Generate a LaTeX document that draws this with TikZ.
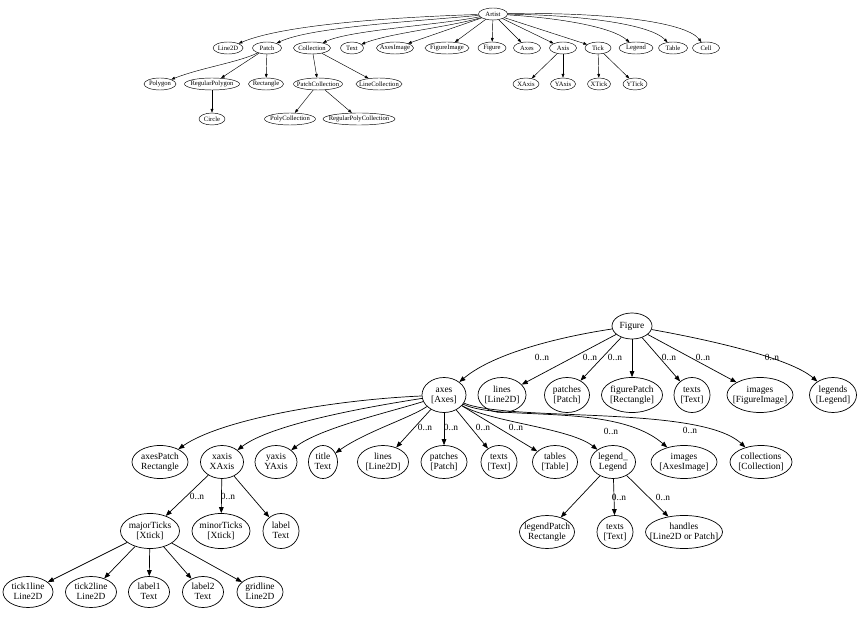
\documentclass[tikz,border=0pt]{standalone}
\usepackage{fontspec}
\setmainfont{Liberation Serif}
\usetikzlibrary{shapes.geometric,arrows.meta}
\newcommand\Tnode[5]{\node[tnode,minimum width=#4] (#1) at (#2,#3) {\makebox[0pt]{#5}};}
\newcommand\Bnode[6]{\node[bnode,minimum width=#4,minimum height=#5] (#1) at (#2,#3) {\makebox[0pt]{\begin{tabular}{@{}c@{}}#6\end{tabular}}};}
\begin{document}
\begin{tikzpicture}[x=1pt,y=-1pt,
  tnode/.style={ellipse,draw,line width=0.45pt,inner sep=0pt,minimum height=12pt,font=\fontsize{6.6}{7}\selectfont},
  bnode/.style={ellipse,draw,line width=0.7pt,inner sep=0pt,font=\fontsize{9.4}{10}\selectfont},
  tedge/.style={-{Triangle[length=3.8pt,width=2.8pt]},line width=0.45pt},
  bedge/.style={-{Triangle[length=6pt,width=4.6pt]},line width=0.7pt},
  elabel/.style={font=\fontsize{9.4}{10}\selectfont,inner sep=0pt}]
\useasboundingbox[fill=white] (0,0) rectangle (864,617);
% ---------- top graph ----------
\Tnode{tartist}{493}{14}{29}{Artist}
\Tnode{tline2d}{228}{48}{30}{Line2D}
\Tnode{tpatch}{267}{48}{29}{Patch}
\Tnode{tcollection}{312}{48}{37}{Collection}
\Tnode{ttext}{352}{48}{23}{Text}
\Tnode{taxesimage}{395}{48}{37}{AxesImage}
\Tnode{tfigureimage}{447}{48}{44}{FigureImage}
\Tnode{tfigure}{492}{48}{28}{Figure}
\Tnode{taxes}{527}{48}{27}{Axes}
\Tnode{taxis}{563}{48}{27}{Axis}
\Tnode{ttick}{598}{48}{26}{Tick}
\Tnode{tlegend}{636}{48}{34}{Legend}
\Tnode{ttable}{673}{48}{29}{Table}
\Tnode{tcell}{706}{48}{27}{Cell}
\Tnode{tpolygon}{160}{84}{32}{Polygon}
\Tnode{tregpoly}{212}{84}{55}{RegularPolygon}
\Tnode{trectangle}{266}{84}{35}{Rectangle}
\Tnode{tpatchcoll}{318}{84}{49}{PatchCollection}
\Tnode{tlinecoll}{379}{84}{46}{LineCollection}
\Tnode{txaxis}{526}{84}{26}{XAxis}
\Tnode{tyaxis}{563}{84}{25}{YAxis}
\Tnode{txtick}{599}{84}{23}{XTick}
\Tnode{tytick}{635}{84}{24}{YTick}
\Tnode{tcircle}{212}{119}{26}{Circle}
\Tnode{tpolycoll}{290}{119}{51}{PolyCollection}
\Tnode{tregpolycoll}{359}{119}{72}{RegularPolyCollection}

\draw[tedge] (tartist) .. controls (400,17) and (285,24) .. (tline2d);
\draw[tedge] (tartist) .. controls (420,21) and (310,27) .. (tpatch);
\draw[tedge] (tartist) .. controls (440,25) and (350,30) .. (tcollection);
\draw[tedge] (tartist) .. controls (450,27) and (390,33) .. (ttext);
\draw[tedge] (tartist) -- (taxesimage);
\draw[tedge] (tartist) -- (tfigureimage);
\draw[tedge] (tartist) -- (tfigure);
\draw[tedge] (tartist) -- (taxes);
\draw[tedge] (tartist) -- (taxis);
\draw[tedge] (tartist) -- (ttick);
\draw[tedge] (tartist) .. controls (560,18) and (612,27) .. (tlegend);
\draw[tedge] (tartist) .. controls (580,15) and (650,24) .. (ttable);
\draw[tedge] (tartist) .. controls (600,12) and (685,21) .. (tcell);
\draw[tedge] (tpatch) .. controls (240,62) and (200,68) .. (tpolygon);
\draw[tedge] (tpatch) -- (tregpoly);
\draw[tedge] (tpatch) -- (trectangle);
\draw[tedge] (tcollection) -- (tpatchcoll);
\draw[tedge] (tcollection) -- (tlinecoll);
\draw[tedge] (tregpoly) -- (tcircle);
\draw[tedge] (tpatchcoll) -- (tpolycoll);
\draw[tedge] (tpatchcoll) -- (tregpolycoll);
\draw[tedge] (taxis) -- (txaxis);
\draw[tedge] (taxis) -- (tyaxis);
\draw[tedge] (ttick) -- (txtick);
\draw[tedge] (ttick) -- (tytick);

% ---------- bottom graph ----------
\Bnode{bfigure}{632}{326}{40}{26}{Figure}
\Bnode{baxes}{444}{395}{44}{35}{axes\\{[Axes]}}
\Bnode{blines}{502}{395}{48}{35}{lines\\{[Line2D]}}
\Bnode{bpatches}{567}{395}{45}{35}{patches\\{[Patch]}}
\Bnode{bfigpatch}{632}{395}{61}{35}{figurePatch\\{[Rectangle]}}
\Bnode{btexts}{692}{395}{36}{35}{texts\\{[Text]}}
\Bnode{bimages}{760}{395}{66}{35}{images\\{[FigureImage]}}
\Bnode{blegends}{833}{395}{47}{35}{legends\\{[Legend]}}

\Bnode{baxespatch}{160}{462}{56}{33}{axesPatch\\Rectangle}
\Bnode{bxaxis}{222}{462}{43}{33}{xaxis\\XAxis}
\Bnode{byaxis}{276}{462}{42}{33}{yaxis\\YAxis}
\Bnode{btitle}{323}{462}{29}{33}{title\\Text}
\Bnode{balines}{383}{462}{51}{33}{lines\\{[Line2D]}}
\Bnode{bapatches}{444}{462}{46}{33}{patches\\{[Patch]}}
\Bnode{batexts}{499}{462}{36}{33}{texts\\{[Text]}}
\Bnode{btables}{555}{462}{45}{33}{tables\\{[Table]}}
\Bnode{blegend}{613}{462}{45}{33}{legend\_\\Legend}
\Bnode{baimages}{684}{462}{66}{33}{images\\{[AxesImage]}}
\Bnode{bcollections}{761}{462}{62}{33}{collections\\{[Collection]}}

\Bnode{bmajor}{150}{531}{59}{35}{majorTicks\\{[Xtick]}}
\Bnode{bminor}{221}{531}{58}{35}{minorTicks\\{[Xtick]}}
\Bnode{blabel}{281}{531}{36}{35}{label\\Text}
\Bnode{blegpatch}{547}{532}{55}{33}{legendPatch\\Rectangle}
\Bnode{bltexts}{615}{532}{36}{33}{texts\\{[Text]}}
\Bnode{bhandles}{684}{532}{77}{33}{handles\\{[Line2D or Patch]}}

\Bnode{btickone}{28}{592}{50}{31}{tick1line\\Line2D}
\Bnode{btickto}{91}{592}{51}{31}{tick2line\\Line2D}
\Bnode{blabelone}{149}{592}{41}{31}{label1\\Text}
\Bnode{blabelto}{203}{592}{41}{31}{label2\\Text}
\Bnode{bgrid}{260}{592}{46}{31}{gridline\\Line2D}

% Figure edges
\draw[bedge] (bfigure) .. controls (565,336) and (495,352) .. (baxes);
\draw[bedge] (bfigure) -- (blines);
\draw[bedge] (bfigure) -- (bpatches);
\draw[bedge] (bfigure) -- (bfigpatch);
\draw[bedge] (bfigure) -- (btexts);
\draw[bedge] (bfigure) -- (bimages);
\draw[bedge] (bfigure) .. controls (710,340) and (790,358) .. (blegends);
\node[elabel] (lf1) at (542,357) {0..n};
\node[elabel] (lf2) at (590,357) {0..n};
\node[elabel] (lf3) at (615,357) {0..n};
\node[elabel] (lf4) at (669,357) {0..n};
\node[elabel] (lf5) at (703,357) {0..n};
\node[elabel] (lf6) at (772,357) {0..n};

% axes edges
\draw[bedge] (baxes) .. controls (330,400) and (220,420) .. (baxespatch);
\draw[bedge] (baxes) .. controls (360,408) and (270,425) .. (bxaxis);
\draw[bedge] (baxes) .. controls (390,412) and (320,428) .. (byaxis);
\draw[bedge] (baxes) .. controls (410,418) and (365,432) .. (btitle);
\draw[bedge] (baxes) -- (balines);
\draw[bedge] (baxes) -- (bapatches);
\draw[bedge] (baxes) -- (batexts);
\draw[bedge] (baxes) -- (btables);
\draw[bedge] (baxes) .. controls (490,422) and (570,428) .. (blegend);
\draw[bedge] (baxes) .. controls (500,422) and (615,402) .. (baimages);
\draw[bedge] (baxes) .. controls (510,422) and (700,405) .. (bcollections);
\node[elabel] (la1) at (425,427) {0..n};
\node[elabel] (la2) at (451,427) {0..n};
\node[elabel] (la3) at (483,427) {0..n};
\node[elabel] (la4) at (516,427) {0..n};
\node[elabel] (la5) at (611,431) {0..n};
\node[elabel] (la6) at (690,430) {0..n};

% xaxis edges
\draw[bedge] (bxaxis) -- (bmajor);
\draw[bedge] (bxaxis) -- (bminor);
\draw[bedge] (bxaxis) -- (blabel);
\node[elabel] (lx1) at (197,496) {0..n};
\node[elabel] (lx2) at (228,496) {0..n};

% majorTicks edges
\draw[bedge] (bmajor) -- (btickone);
\draw[bedge] (bmajor) -- (btickto);
\draw[bedge] (bmajor) -- (blabelone);
\draw[bedge] (bmajor) -- (blabelto);
\draw[bedge] (bmajor) -- (bgrid);

% legend edges
\draw[bedge] (blegend) -- (blegpatch);
\draw[bedge] (blegend) -- (bltexts);
\draw[bedge] (blegend) -- (bhandles);
\node[elabel] (ll1) at (619,497) {0..n};
\node[elabel] (ll2) at (663,497) {0..n};
\end{tikzpicture}
\end{document}
